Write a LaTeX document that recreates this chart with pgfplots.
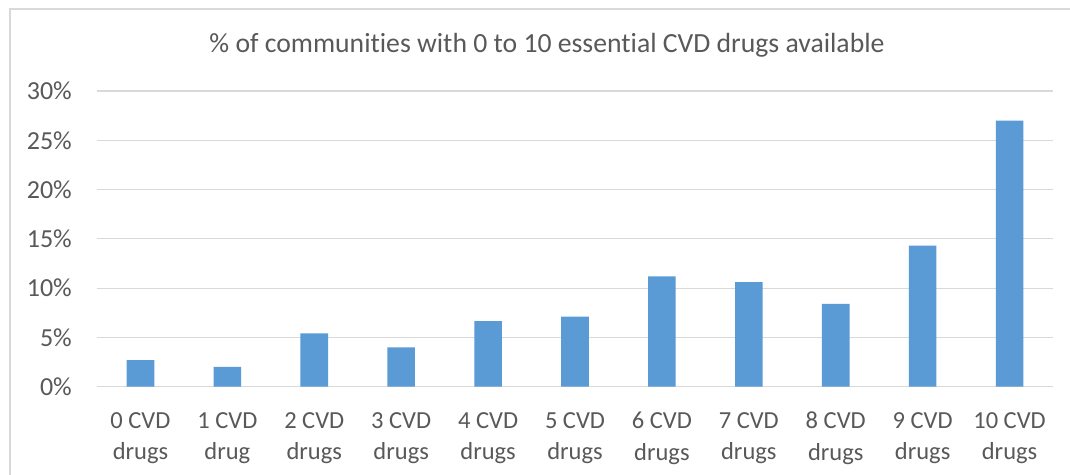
\documentclass[border=0pt]{standalone}
\usepackage{pgfplots}
\pgfplotsset{compat=1.18}
\usepackage{fontspec}
\setmainfont[Ligatures=NoCommon]{Carlito}
\definecolor{barblue}{HTML}{5B9BD5}
\definecolor{txtgray}{HTML}{595959}
\definecolor{gridgray}{HTML}{D9D9D9}
\begin{document}
\begin{tikzpicture}[x=1bp,y=1bp]
\useasboundingbox (0,0) rectangle (1070,475);
\fill[white] (0,0) rectangle (1070,475);
\draw[gridgray, line width=1.2bp] (10,-5) -- (10,466) -- (1075,466);
\node[txtgray, anchor=base, inner sep=0pt, font=\fontsize{27.7bp}{33bp}\selectfont] at (547,422) {\% of communities with 0 to 10 essential CVD drugs available};
\begin{axis}[
  at={(97bp,88.3bp)}, anchor=south west,
  scale only axis, width=956bp, height=295.7bp,
  xmin=-0.5, xmax=10.5, ymin=0, ymax=30,
  axis line style={draw=none},
  tick style={draw=none},
  ymajorgrids, grid style={gridgray, line width=1.2bp},
  ytick={0,5,10,15,20,25,30},
  yticklabels={0\%,5\%,10\%,15\%,20\%,25\%,30\%},
  yticklabel style={anchor=east, inner sep=0pt, xshift=-25bp, text=txtgray, font=\fontsize{26bp}{30bp}\selectfont},
  xtick={0,1,2,3,4,5,6,7,8,9,10},
  xticklabels={{0 CVD\\drugs},{1 CVD\\drug},{2 CVD\\drugs},{3 CVD\\drugs},{4 CVD\\drugs},{5 CVD\\drugs},{6 CVD\\drugs},{7 CVD\\drugs},{8 CVD\\drugs},{9 CVD\\drugs},{10 CVD\\drugs}},
  xticklabel style={anchor=north, align=center, inner sep=0pt, yshift=-21bp, text=txtgray, font=\fontsize{24.5bp}{31.5bp}\selectfont},
  ybar, bar width=27.6bp,
]
\addplot[fill=barblue, draw=none] coordinates {(0,2.7)(1,2.0)(2,5.4)(3,4.0)(4,6.65)(5,7.1)(6,11.2)(7,10.6)(8,8.4)(9,14.3)(10,27.0)};
\end{axis}
\end{tikzpicture}
\end{document}
